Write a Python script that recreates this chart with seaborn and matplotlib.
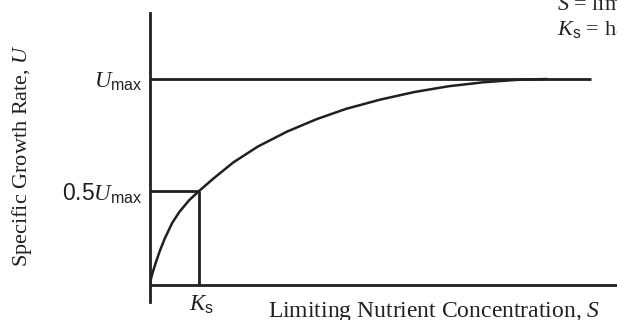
import matplotlib
matplotlib.use("Agg")
import matplotlib.pyplot as plt
import seaborn as sns
import pandas as pd

# ---- data (Umax = 1, Ks = 1) ----
S_vals = [0.0, 0.02, 0.06, 0.12, 0.2, 0.3, 0.45, 0.6, 0.8, 1.0, 1.3, 1.7,
          2.2, 2.8, 3.4, 4.0, 4.7, 5.4, 6.1, 6.8, 7.5, 8.1]
U_vals = [0.0, 0.03, 0.065, 0.11, 0.165, 0.225, 0.30, 0.355, 0.412, 0.456,
          0.518, 0.595, 0.672, 0.745, 0.805, 0.855, 0.900, 0.937, 0.965,
          0.984, 0.996, 1.0]
Umax = 1.0
half_level = 0.456          # where "0.5 Umax" is drawn
Ks = 1.0
umax_line_end = 9.0
ytick_labels = [r"$\mathsf{0.5}U_{\mathsf{max}}$", r"$U_{\mathsf{max}}$"]
xlabel = r"Limiting Nutrient Concentration, $S$"
ylabel = r"Specific Growth Rate, $U$"
ks_label = r"$K_{\mathsf{s}}$"
legend_lines = [r"$S$ = limiting nutrient concentration",
                r"$K_{\mathsf{s}}$ = half-saturation constant"]

df = pd.DataFrame({"S": S_vals, "U": U_vals})

sns.set_theme(style="white")
plt.rcParams["font.family"] = ["Liberation Serif", "DejaVu Serif"]
plt.rcParams["mathtext.fontset"] = "custom"
plt.rcParams["mathtext.rm"] = "Liberation Serif"
plt.rcParams["mathtext.it"] = "Liberation Serif:italic"
plt.rcParams["mathtext.sf"] = "Liberation Sans"

INK = "#231f20"
W, H = 617, 320
fig = plt.figure(figsize=(W / 100, H / 100), dpi=100)
fig.patch.set_facecolor("white")

# axes placement (pixels): left edge 150, right 617, bottom 302, top 13
ax = fig.add_axes([150 / W, (H - 302) / H, (W - 150) / W, (302 - 13) / H])
ax.set_facecolor("white")
ax.set_xlim(0, (617 - 150) / 49)
ax.set_ylim((285 - 302) / 206, (285 - 13) / 206)

for side in ["top", "right", "bottom"]:
    ax.spines[side].set_visible(False)
ax.spines["left"].set_color(INK)
ax.spines["left"].set_linewidth(2.0)

# x-axis line
ax.axhline(0, color=INK, lw=2.0, zorder=2)
# Umax line
ax.hlines(Umax, 0, umax_line_end, color=INK, lw=2.0, zorder=2)
# 0.5 Umax / Ks guides
ax.hlines(half_level, 0, Ks, color=INK, lw=2.0, zorder=2)
ax.vlines(Ks, 0, half_level, color=INK, lw=2.0, zorder=2)

# curve
sns.lineplot(data=df, x="S", y="U", sort=False, color=INK, lw=1.8, ax=ax,
             zorder=3, solid_capstyle="round", solid_joinstyle="round")

ax.set_xlabel("")
ax.set_ylabel("")
ax.set_xticks([])
ax.set_yticks([half_level, Umax])
ax.set_yticklabels(ytick_labels, fontsize=16.5, color=INK)
ax.tick_params(axis="y", length=0, pad=5.5)

ax.annotate(ks_label, xy=(Ks, 0), xytext=(2, -14.5), textcoords="offset points",
            ha="center", va="center", fontsize=16.5, color=INK,
            annotation_clip=False)

fig.text(22 / W, 1 - 155 / H, ylabel, rotation=90, ha="center", va="center",
         fontsize=16, color=INK)
fig.text(434 / W, 1 - 317 / H, xlabel, ha="center", va="baseline",
         fontsize=17, color=INK)
fig.text(557 / W, 1 - 10 / H, legend_lines[0], ha="left", va="baseline",
         fontsize=16, color=INK)
fig.text(557 / W, 1 - 35 / H, legend_lines[1], ha="left", va="baseline",
         fontsize=16, color=INK)

fig.savefig("out.png", dpi=100)
